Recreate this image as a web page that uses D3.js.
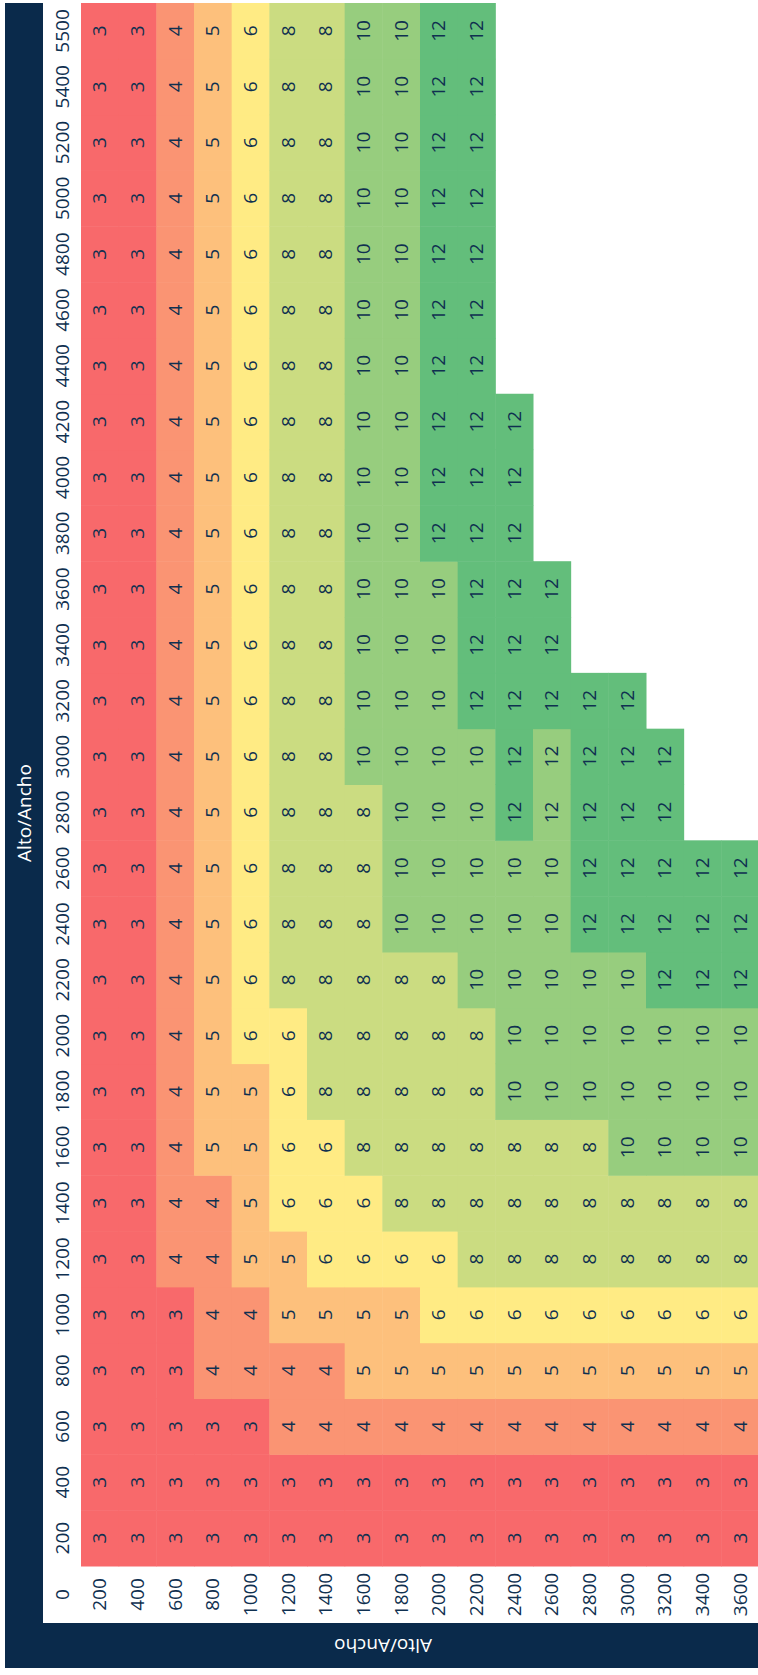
<!DOCTYPE html>
<html>
<head>
<meta charset="utf-8">
<script src="https://cdn.jsdelivr.net/npm/d3@7/dist/d3.min.js"></script>
<style>
  body { margin: 0; background: #fff; }
  svg text { font-family: "Open Sans", sans-serif; }
</style>
</head>
<body>
<div id="chart-area"></div>
<script>
// Tabla Alto/Ancho girada 90°: cada columna de la imagen es un "alto",
// cada fila un "ancho" (200 abajo, 5500 arriba)

var alto = [200, 400, 600, 800, 1000, 1200, 1400, 1600, 1800, 2000, 2200, 2400, 2600, 2800, 3000, 3200, 3400, 3600];
var ancho = [200, 400, 600, 800, 1000, 1200, 1400, 1600, 1800, 2000, 2200, 2400, 2600, 2800,
             3000, 3200, 3400, 3600, 3800, 4000, 4200, 4400, 4600, 4800, 5000, 5200, 5400, 5500];

// valores por alto, en el orden de "ancho"; las celdas que faltan quedan en blanco
var valores = [
  [3,3,3,3,3,3,3,3,3,3,3,3,3,3,3,3,3,3,3,3,3,3,3,3,3,3,3,3],      // 200
  [3,3,3,3,3,3,3,3,3,3,3,3,3,3,3,3,3,3,3,3,3,3,3,3,3,3,3,3],      // 400
  [3,3,3,3,3,4,4,4,4,4,4,4,4,4,4,4,4,4,4,4,4,4,4,4,4,4,4,4],      // 600
  [3,3,3,4,4,4,4,5,5,5,5,5,5,5,5,5,5,5,5,5,5,5,5,5,5,5,5,5],      // 800
  [3,3,3,4,4,5,5,5,5,6,6,6,6,6,6,6,6,6,6,6,6,6,6,6,6,6,6,6],      // 1000
  [3,3,4,4,5,5,6,6,6,6,8,8,8,8,8,8,8,8,8,8,8,8,8,8,8,8,8,8],      // 1200
  [3,3,4,4,5,6,6,6,8,8,8,8,8,8,8,8,8,8,8,8,8,8,8,8,8,8,8,8],      // 1400
  [3,3,4,5,5,6,6,8,8,8,8,8,8,8,10,10,10,10,10,10,10,10,10,10,10,10,10,10], // 1600
  [3,3,4,5,5,6,8,8,8,8,8,10,10,10,10,10,10,10,10,10,10,10,10,10,10,10,10,10], // 1800
  [3,3,4,5,6,6,8,8,8,8,8,10,10,10,10,10,10,10,12,12,12,12,12,12,12,12,12,12], // 2000
  [3,3,4,5,6,8,8,8,8,8,10,10,10,10,10,12,12,12,12,12,12,12,12,12,12,12,12,12], // 2200
  [3,3,4,5,6,8,8,8,10,10,10,10,10,12,12,12,12,12,12,12,12],      // 2400
  [3,3,4,5,6,8,8,8,10,10,10,10,10,12,12,12,12,12],               // 2600
  [3,3,4,5,6,8,8,8,10,10,10,12,12,12,12,12],                     // 2800
  [3,3,4,5,6,8,8,10,10,10,10,12,12,12,12,12],                    // 3000
  [3,3,4,5,6,8,8,10,10,10,12,12,12,12,12],                       // 3200
  [3,3,4,5,6,8,8,10,10,10,12,12,12],                             // 3400
  [3,3,4,5,6,8,8,10,10,10,12,12,12]                              // 3600
];

// celdas cuyo relleno no sigue al número que muestran (alto, ancho, tono)
var tonoDistinto = [
  [2600, 2800, 10],
  [2600, 3000, 10]
];

var titulo = "Alto/Ancho";
var esquina = "0";

var W = 758, H = 1675;
var navy = "#0a2a4b";
var tinta = "#0f3050";
var fs = "19px";

var svg = d3.select("#chart-area").append("svg")
    .attr("width", W)
    .attr("height", H);

// Scales
var x = d3.scaleBand().domain(alto).range([81, 759]);
var y = d3.scaleBand().domain(ancho.slice().reverse()).range([3, 1566]);

var color = d3.scaleLinear()
    .domain([3, 6, 12])
    .range(["#F8696B", "#FFEB84", "#63BE7B"]);

// celdas planas
var celdas = [];
valores.forEach(function(fila, i) {
    fila.forEach(function(v, j) {
        celdas.push({ alto: alto[i], ancho: ancho[j], valor: v, tono: v });
    });
});
tonoDistinto.forEach(function(t) {
    var c = celdas.find(d => d.alto === t[0] && d.ancho === t[1]);
    if (c) c.tono = t[2];
});

// bandas oscuras
svg.append("rect")
    .attr("x", 5).attr("y", 3)
    .attr("width", 38).attr("height", 1665)
    .attr("fill", navy);
svg.append("rect")
    .attr("x", 5).attr("y", 1623)
    .attr("width", W).attr("height", 45)
    .attr("fill", navy);

svg.append("text")
    .attr("transform", "translate(24," + ((3 + 1623) / 2) + ") rotate(-90)")
    .attr("text-anchor", "middle")
    .attr("dy", "0.35em")
    .attr("fill", "#fff")
    .style("font-size", fs)
    .text(titulo);

svg.append("text")
    .attr("transform", "translate(" + ((5 + 761) / 2) + "," + ((1623 + 1668) / 2) + ") rotate(180)")
    .attr("text-anchor", "middle")
    .attr("dy", "0.35em")
    .attr("fill", "#fff")
    .style("font-size", fs)
    .text(titulo);

// celdas
var g = svg.append("g");

g.selectAll("rect.celda")
    .data(celdas)
    .enter().append("rect")
    .attr("class", "celda")
    .attr("x", d => x(d.alto))
    .attr("y", d => y(d.ancho))
    .attr("width", x.bandwidth() + 0.5)
    .attr("height", y.bandwidth() + 0.5)
    .attr("fill", d => color(d.tono));

g.selectAll("text.valor")
    .data(celdas)
    .enter().append("text")
    .attr("class", "valor")
    .attr("transform", d => "translate(" + (x(d.alto) + x.bandwidth() / 2) + "," +
        (y(d.ancho) + y.bandwidth() / 2) + ") rotate(-90)")
    .attr("text-anchor", "middle")
    .attr("dy", "0.35em")
    .attr("fill", tinta)
    .style("font-size", fs)
    .text(d => d.valor);

// cabeceras: anchos a la izquierda, altos abajo
var labX = (43 + 81) / 2;
var labY = (1566 + 1623) / 2;

g.selectAll("text.ancho")
    .data(ancho)
    .enter().append("text")
    .attr("class", "ancho")
    .attr("transform", d => "translate(" + labX + "," + (y(d) + y.bandwidth() / 2) + ") rotate(-90)")
    .attr("text-anchor", "middle")
    .attr("dy", "0.35em")
    .attr("fill", tinta)
    .style("font-size", fs)
    .text(d => d);

g.selectAll("text.alto")
    .data(alto)
    .enter().append("text")
    .attr("class", "alto")
    .attr("transform", d => "translate(" + (x(d) + x.bandwidth() / 2) + "," + labY + ") rotate(-90)")
    .attr("text-anchor", "middle")
    .attr("dy", "0.35em")
    .attr("fill", tinta)
    .style("font-size", fs)
    .text(d => d);

g.append("text")
    .attr("transform", "translate(" + labX + "," + labY + ") rotate(-90)")
    .attr("text-anchor", "middle")
    .attr("dy", "0.35em")
    .attr("fill", tinta)
    .style("font-size", fs)
    .text(esquina);
</script>
</body>
</html>
